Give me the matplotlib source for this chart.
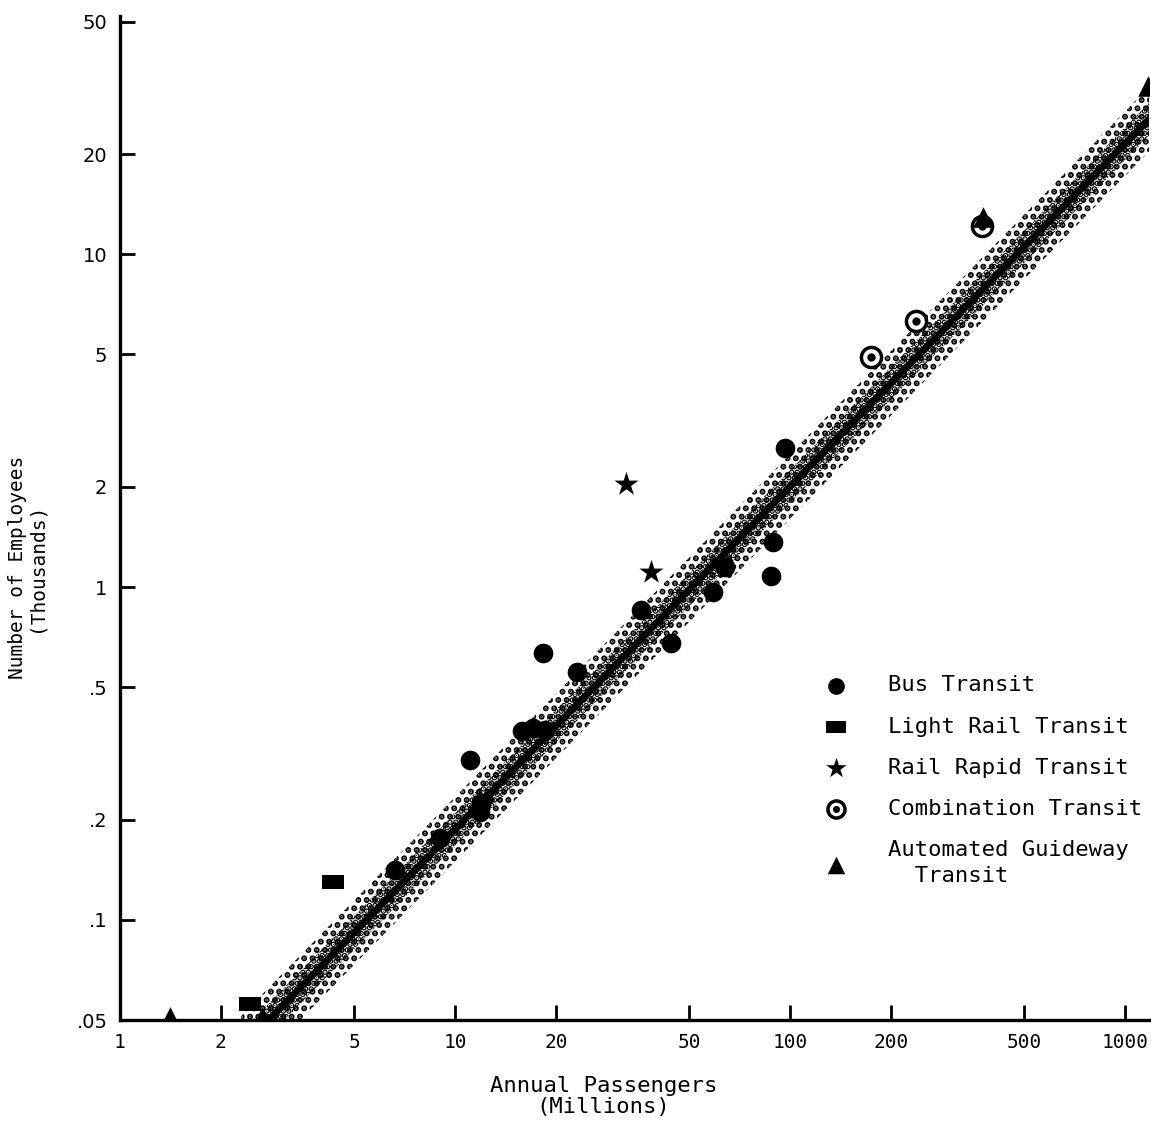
import numpy as np
import matplotlib
matplotlib.use("Agg")
import matplotlib.pyplot as plt
from matplotlib.legend_handler import HandlerTuple
from matplotlib.path import Path

# ---- data ----
bus_x = [11.1, 11.9, 18.3, 15.8, 18.6, 23.2, 35.9, 44.1, 58.9, 64.0, 88.0, 89.0, 96.6, 6.6, 9.0, 17.1, 12.0]
bus_y = [0.302, 0.211, 0.634, 0.37, 0.372, 0.556, 0.853, 0.679, 0.966, 1.15, 1.08, 1.365, 2.61, 0.141, 0.176, 0.377, 0.225]
lrt_x = [4.32, 2.45]
lrt_y = [0.130, 0.056]
rrt_x = [32.4, 38.5]
rrt_y = [2.04, 1.11]
comb_x = [174.5, 238.0, 374.0]
comb_y = [4.91, 6.29, 12.2]
agt_x = [1.41, 2.65, 378.0, 1172.0]
agt_y = [0.051, 0.051, 12.9, 32.0]

# regression band: employees = coef * (passengers/10)^slope, band factor
band_coef = 0.187
band_slope = 1.03
band_factor = 1.25
band_x_range = [2.3, 1250.0]

xticks = [1, 2, 5, 10, 20, 50, 100, 200, 500, 1000]
xticklabels = ["1", "2", "5", "10", "20", "50", "100", "200", "500", "1000"]
yticks = [0.05, 0.1, 0.2, 0.5, 1, 2, 5, 10, 20, 50]
yticklabels = [".05", ".1", ".2", ".5", "1", "2", "5", "10", "20", "50"]

legend_labels = ["Bus Transit", "Light Rail Transit", "Rail Rapid Transit",
                 "Combination Transit", "Automated Guideway\n  Transit"]

# ---- figure ----
W, H = 1151, 1139
fig = plt.figure(figsize=(W / 100, H / 100), dpi=100)
ax = fig.add_axes([120 / W, 1 - 1020 / H, 1029 / W, 1004 / H])
ax.set_xscale("log")
ax.set_yscale("log")
ax.set_xlim(1, 1180)
ax.set_ylim(0.05, 52)

mono = "DejaVu Sans Mono"
plt.rcParams["hatch.linewidth"] = 3.0

xs = np.logspace(np.log10(band_x_range[0]), np.log10(band_x_range[1]), 200)
yc = band_coef * (xs / 10.0) ** band_slope
ax.fill_between(xs, yc / band_factor, yc * band_factor, facecolor="none",
                edgecolor="black", hatch="..", linewidth=0, zorder=1)
ax.fill_between(xs, yc / 1.12, yc * 1.12, facecolor="none",
                edgecolor="black", hatch="...", linewidth=0, zorder=1)
ax.plot(xs, yc, color="black", lw=5, zorder=2, solid_capstyle="butt")

rect = Path([(-1, -0.6), (1, -0.6), (1, 0.6), (-1, 0.6), (-1, -0.6)],
            [Path.MOVETO, Path.LINETO, Path.LINETO, Path.LINETO, Path.CLOSEPOLY])

h_bus = ax.scatter(bus_x, bus_y, s=200, marker="o", color="black", zorder=3, linewidths=0)
h_lrt = ax.scatter(lrt_x, lrt_y, s=260, marker=rect, color="black", zorder=3, linewidths=0)
h_rrt = ax.scatter(rrt_x, rrt_y, s=330, marker="*", color="black", zorder=3, linewidths=0)
h_c1 = ax.scatter(comb_x, comb_y, s=210, marker="o", facecolor="white",
                  edgecolor="black", linewidths=2.5, zorder=3)
h_c2 = ax.scatter(comb_x, comb_y, s=36, marker="o", color="black", zorder=4, linewidths=0)
h_agt = ax.scatter(agt_x, agt_y, s=220, marker="^", color="black", zorder=3, linewidths=0)

# axes styling
for side in ("top", "right"):
    ax.spines[side].set_visible(False)
for side in ("left", "bottom"):
    ax.spines[side].set_linewidth(2.4)
ax.set_xticks(xticks)
ax.set_xticklabels(xticklabels, fontfamily=mono, fontsize=14)
ax.set_yticks(yticks)
ax.set_yticklabels(yticklabels, fontfamily="DejaVu Sans", fontsize=14)
ax.xaxis.set_minor_locator(matplotlib.ticker.NullLocator())
ax.yaxis.set_minor_locator(matplotlib.ticker.NullLocator())
ax.tick_params(axis="both", direction="in", length=11, width=2, pad=9)

ax.set_xlabel("Annual Passengers\n(Millions)", fontfamily=mono, fontsize=16,
              linespacing=1.05)
ax.xaxis.set_label_coords(0.47, -0.056, transform=ax.transAxes)
ax.xaxis.label.set_va("top")
ax.set_ylabel("Number of Employees\n(Thousands)", fontfamily=mono, fontsize=14,
              linespacing=1.0)
ax.yaxis.set_label_coords(-0.072, 0.451)

leg = ax.legend([h_bus, h_lrt, h_rrt, (h_c1, h_c2), h_agt], legend_labels,
                handler_map={tuple: HandlerTuple(ndivide=1)},
                loc="upper left", bbox_to_anchor=(0.674, 0.352),
                frameon=False, prop={"family": mono, "size": 16},
                labelspacing=0.95, handletextpad=1.75, handlelength=1.2,
                borderaxespad=0, markerscale=0.85)
for t in leg.get_texts():
    t.set_linespacing(1.4)

fig.savefig("out.png", dpi=100)
